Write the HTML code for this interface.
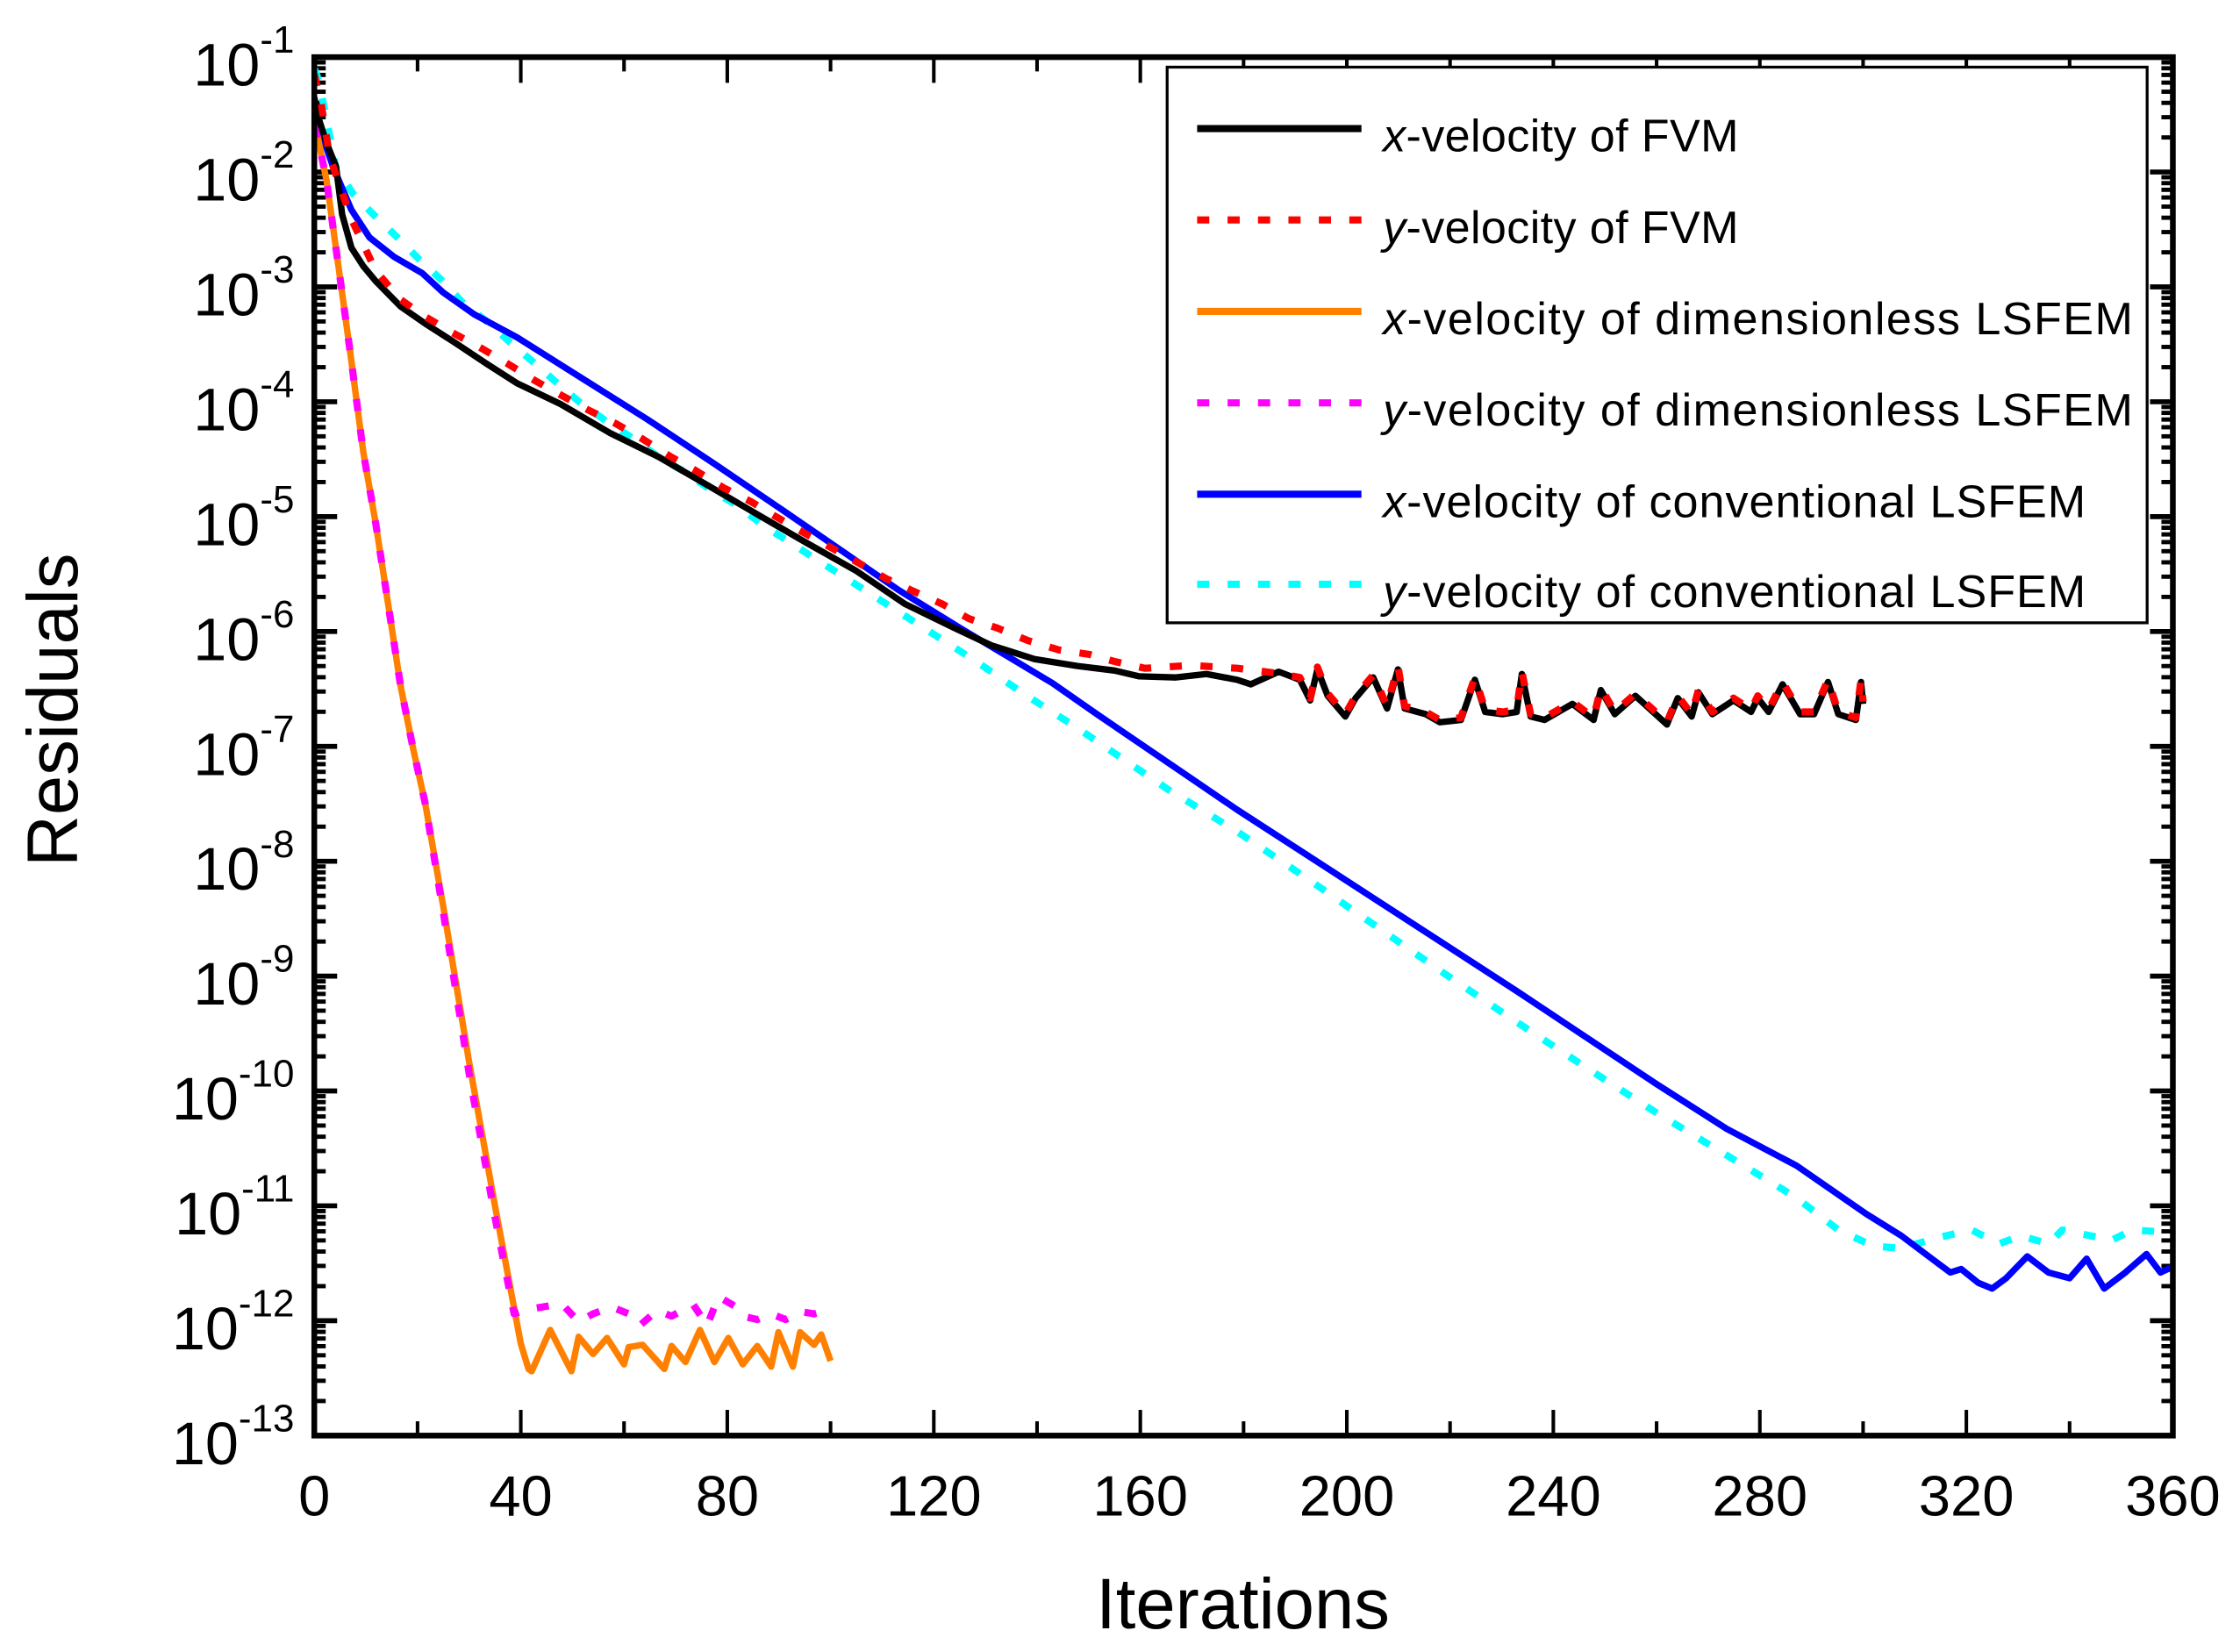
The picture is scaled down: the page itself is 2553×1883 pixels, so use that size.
<!DOCTYPE html>
<html><head><meta charset="utf-8"><style>
html,body{margin:0;padding:0;background:#fff;}
svg{display:block;}
text{font-family:"Liberation Sans",sans-serif;fill:#000;}
</style></head><body>
<svg id="chart" xmlns="http://www.w3.org/2000/svg" width="2553" height="1883" viewBox="0 0 1568 1156.5">
<rect x="0" y="0" width="1568" height="1156.5" fill="#fff"/>
<defs><clipPath id="plotclip"><rect x="220" y="40" width="1301" height="965"/></clipPath></defs>
<g id="ticks"></g>
<g id="series" clip-path="url(#plotclip)"></g>
<rect x="220" y="40" width="1301" height="965" fill="none" stroke="#000" stroke-width="4"/>
<g id="ylabels"></g>
<g id="xlabels"></g>
<text x="870" y="1140" font-size="50" text-anchor="middle">Iterations</text>
<text x="0" y="0" font-size="50" text-anchor="middle" transform="translate(54,497) rotate(-90)">Residuals</text>
<g id="legend">
<rect x="817" y="47" width="686" height="389" fill="#fff" stroke="#000" stroke-width="2"/>
</g>
</svg>
<script>
const xTickValues=[0,40,80,120,160,200,240,280,320,360];
const yTickExps=[-1,-2,-3,-4,-5,-6,-7,-8,-9,-10,-11,-12,-13];
const seriesNames=["x-velocity of FVM","y-velocity of FVM","x-velocity of dimensionless LSFEM","y-velocity of dimensionless LSFEM","x-velocity of conventional LSFEM","y-velocity of conventional LSFEM"];
// iterations and log10(residual)
const fvmXIter=[0,0.6,2.4,4.2,5.4,7.2,9.5,11.9,16.7,21.5,27.4,33.4,39.3,47.7,57.2,66.7,76.3,85.8,95.4,104.9,114.4,124,131.1,139.5,147.8,155,159.7,166.9,172.8,178.7,181.4,186.8,190.9,192.9,194.3,196.3,199.7,201.7,205.1,207.8,209.9,211.2,215.3,218,222.1,224.8,226.8,230.2,232.9,233.9,235.6,238.3,243.7,247.8,249.2,251.9,255.9,262,264.1,266.8,268.1,270.8,274.9,278.3,279.6,281.7,284.4,287.8,290.5,293.2,295.2,298.6,299.6,300];
const fvmXLog=[-1.35,-1.5,-1.75,-1.95,-2.37,-2.66,-2.82,-2.95,-3.17,-3.32,-3.49,-3.67,-3.84,-4.02,-4.27,-4.48,-4.73,-4.98,-5.23,-5.47,-5.76,-5.97,-6.12,-6.24,-6.3,-6.34,-6.39,-6.4,-6.37,-6.42,-6.46,-6.35,-6.42,-6.6,-6.33,-6.56,-6.74,-6.58,-6.4,-6.67,-6.33,-6.67,-6.72,-6.79,-6.77,-6.42,-6.7,-6.72,-6.7,-6.37,-6.74,-6.77,-6.63,-6.77,-6.51,-6.72,-6.56,-6.81,-6.58,-6.74,-6.53,-6.72,-6.6,-6.7,-6.58,-6.7,-6.46,-6.72,-6.72,-6.44,-6.72,-6.77,-6.44,-6.63];
const fvmYIter=[0,1.2,3,7.2,11.9,16.7,21.5,26.8,32.2,37.5,42.9,47.7,53,58.4,63.8,69.1,73.9,79.3,84.6,89.4,94.8,100.1,104.9,110.8,115.6,121.6,126.9,132.3,138.3,144.2,150.2,154.9,160.9,168.1,171.6,178.8,185.9,190.9,192.9,194.3,196.3,199.7,201.7,205.1,207.8,209.9,211.2,215.3,218,222.1,224.8,226.8,230.2,232.9,233.9,235.6,238.3,243.7,247.8,249.2,251.9,255.9,262,264.1,266.8,268.1,270.8,274.9,278.3,279.6,281.7,284.4,287.8,290.5,293.2,295.2,298.6,299.6,300];
const fvmYLog=[-1.15,-1.37,-1.87,-2.41,-2.86,-3.11,-3.26,-3.4,-3.53,-3.67,-3.82,-3.94,-4.07,-4.19,-4.33,-4.48,-4.6,-4.75,-4.87,-5,-5.14,-5.27,-5.39,-5.54,-5.64,-5.76,-5.89,-5.97,-6.08,-6.16,-6.2,-6.26,-6.32,-6.3,-6.3,-6.32,-6.36,-6.4,-6.58,-6.31,-6.54,-6.72,-6.56,-6.38,-6.65,-6.3,-6.65,-6.7,-6.77,-6.75,-6.4,-6.68,-6.7,-6.68,-6.35,-6.72,-6.75,-6.61,-6.75,-6.49,-6.7,-6.54,-6.79,-6.56,-6.72,-6.51,-6.7,-6.58,-6.68,-6.56,-6.68,-6.44,-6.7,-6.7,-6.42,-6.7,-6.75,-6.42,-6.61];
const dimXIter=[0,0.6,2.4,4.8,7.2,9.5,11.9,14.3,16.7,19.1,21.5,25,30,35,40,41.5,42.1,45.7,49.8,51.2,54,56.7,60,60.9,63.6,67.8,69.2,71.9,74.7,77.5,80.2,83,85.8,88.5,89.9,92.7,94.1,96.8,98.2,100];
const dimXLog=[-1.6,-1.68,-2.08,-2.86,-3.65,-4.44,-5.06,-5.76,-6.47,-7.01,-7.5,-8.4,-9.75,-11,-12.2,-12.42,-12.44,-12.08,-12.44,-12.14,-12.29,-12.15,-12.38,-12.23,-12.21,-12.42,-12.22,-12.36,-12.08,-12.36,-12.15,-12.38,-12.22,-12.4,-12.1,-12.4,-12.1,-12.21,-12.12,-12.35];
const dimYIter=[0,0.6,2.4,4.8,7.2,9.5,11.9,14.3,16.7,19.1,21.5,25,30,35,38.7,41.5,44.3,47.9,51.2,54,57.6,60.9,63.1,66.4,69.2,73.4,76.1,78.3,81.7,83,85.8,88.5,91.3,94.1,96.8,100];
const dimYLog=[-1.6,-1.68,-2.08,-2.86,-3.65,-4.44,-5.06,-5.76,-6.47,-7.01,-7.5,-8.45,-9.85,-11.1,-11.94,-11.9,-11.88,-11.85,-12.01,-11.94,-11.88,-11.94,-12.04,-11.91,-11.96,-11.86,-12.04,-11.79,-11.88,-11.96,-11.99,-11.94,-11.99,-11.92,-11.94,-11.9];
const convXIter=[0,1.2,3.6,7.2,10.7,15.5,20.9,25,31,39.3,51.3,64.4,77.5,90.6,101.3,113.2,125.1,143,151.6,178.7,205.8,232.9,260,273.6,287.1,300.6,307.4,314.2,316.9,319,322.3,325,327.7,331.8,335.9,340,343.3,346.7,350.8,354.9,357.6,360];
const convXLog=[-1.62,-1.64,-1.95,-2.33,-2.57,-2.74,-2.88,-3.05,-3.24,-3.44,-3.78,-4.15,-4.54,-4.94,-5.27,-5.64,-5.97,-6.45,-6.72,-7.55,-8.34,-9.13,-9.94,-10.33,-10.65,-11.07,-11.26,-11.49,-11.58,-11.55,-11.67,-11.72,-11.63,-11.44,-11.58,-11.63,-11.46,-11.72,-11.58,-11.42,-11.58,-11.53];
const convYIter=[0,0.6,1.8,4.2,7.7,11.9,16.1,20.3,24.4,28.6,33.4,38.1,42.3,47.1,51.3,56.6,61.4,66.7,72.1,76.9,82.2,87,92.4,97.1,102.5,107.3,117.4,127.5,137.7,147.8,157.3,165.2,178.7,192.3,205.8,219.3,232.9,246.5,260,273.6,287.1,295.2,302,307.4,314.2,321,326.4,330.5,335.9,338.6,344,348.1,352.2,359];
const convYLog=[-1.1,-1.17,-1.41,-1.97,-2.2,-2.39,-2.57,-2.76,-2.93,-3.13,-3.3,-3.49,-3.65,-3.84,-4,-4.17,-4.31,-4.48,-4.62,-4.77,-4.91,-5.08,-5.23,-5.37,-5.52,-5.66,-5.95,-6.24,-6.55,-6.84,-7.13,-7.37,-7.74,-8.15,-8.57,-8.99,-9.4,-9.8,-10.19,-10.56,-10.93,-11.21,-11.35,-11.37,-11.28,-11.21,-11.33,-11.26,-11.33,-11.21,-11.26,-11.3,-11.21,-11.23];

const NS="http://www.w3.org/2000/svg";
const X0=220,X1=1521,Y0=40,Y1=1005,XMAX=360,LTOP=-1,LBOT=-13;
function xScale(v){return X0+(v/XMAX)*(X1-X0);}
function yScale(l){return Y0+(LTOP-l)/(LTOP-LBOT)*(Y1-Y0);}
function mk(tag,attrs,parent){const e=document.createElementNS(NS,tag);for(const k in attrs)e.setAttribute(k,attrs[k]);parent.appendChild(e);return e;}

const ticks=document.getElementById('ticks');
for(let v=0;v<=XMAX;v+=20){
  const major=v%40===0;const len=major?18:10;const x=xScale(v);
  const t1=mk('line',{x1:x,x2:x,y1:Y1,y2:Y1-len,stroke:'#000','stroke-width':2.5},ticks);
  
  
  const t2=mk('line',{x1:x,x2:x,y1:Y0,y2:Y0+len,stroke:'#000','stroke-width':2.5},ticks);
  
  
}
for(let e=LBOT;e<LTOP;e++){
  for(let m=1;m<10;m++){
    const l=e+Math.log10(m);const y=yScale(l);const len=m===1?16:8;const w=m===1?3.5:3;
    const a=mk('line',{x1:X0,x2:X0+len,y1:y,y2:y,stroke:'#000','stroke-width':w},ticks);
    
    
    const b=mk('line',{x1:X1,x2:X1-len,y1:y,y2:y,stroke:'#000','stroke-width':w},ticks);
    
    
  }
}
const yl=document.getElementById('ylabels');
yTickExps.forEach(e=>{
  const y=yScale(e);
  const t=mk('text',{x:206,y:y+20,'font-size':42,'text-anchor':'end'},yl);
  
  
  const s1=mk('tspan',{},t);s1.textContent='10';
  const s2=mk('tspan',{dy:-23,'font-size':27},t);s2.textContent=String(e);
});
const xl=document.getElementById('xlabels');
xTickValues.forEach(v=>{
  const t=mk('text',{x:xScale(v),y:1061,'font-size':40,'text-anchor':'middle'},xl);
  
  
  t.textContent=String(v);
});
const seriesDefs=[
  {it:fvmXIter,lg:fvmXLog,c:'#000000',d:null,n:'fvm-x-line'},
  {it:fvmYIter,lg:fvmYLog,c:'#ff0000',d:'8.5 13',n:'fvm-y-line'},
  {it:dimXIter,lg:dimXLog,c:'#ff8000',d:null,n:'dimensionless-x-line'},
  {it:dimYIter,lg:dimYLog,c:'#ff00ff',d:'8.5 13',n:'dimensionless-y-line'},
  {it:convXIter,lg:convXLog,c:'#0000ff',d:null,n:'conventional-x-line'},
  {it:convYIter,lg:convYLog,c:'#00ffff',d:'8.5 13',n:'conventional-y-line'}
];
const sg=document.getElementById('series');
const order=[5,4,2,3,0,1];
order.forEach(i=>{
  const s=seriesDefs[i];
  const pts=s.it.map((v,k)=>xScale(v).toFixed(2)+','+yScale(s.lg[k]).toFixed(2)).join(' ');
  const attrs={points:pts,fill:'none',stroke:s.c,'stroke-width':s.d?5:4.5,'stroke-linejoin':'round'};
  if(s.d)attrs['stroke-dasharray']=s.d;
  const p=mk('polyline',attrs,sg);
  
  
});
const lg=document.getElementById('legend');
const legendY=[95,159,223,287,351,414];
const legendLen=[249,249,525,525,492,492];
seriesDefs.forEach((s,i)=>{
  const y=legendY[i];
  const la={x1:838,x2:953,y1:y-5,y2:y-5,stroke:s.c,'stroke-width':5};
  if(s.d)la['stroke-dasharray']='8.5 12.8';
  const l=mk('line',la,lg);
  
  
  const t=mk('text',{x:968,y:y+11,'font-size':32,textLength:legendLen[i],lengthAdjust:'spacing'},lg);
  
  
  const a=mk('tspan',{'font-style':'italic'},t);a.textContent=seriesNames[i].charAt(0);
  const b=mk('tspan',{},t);b.textContent=seriesNames[i].slice(1);
});
</script>
</body></html>
